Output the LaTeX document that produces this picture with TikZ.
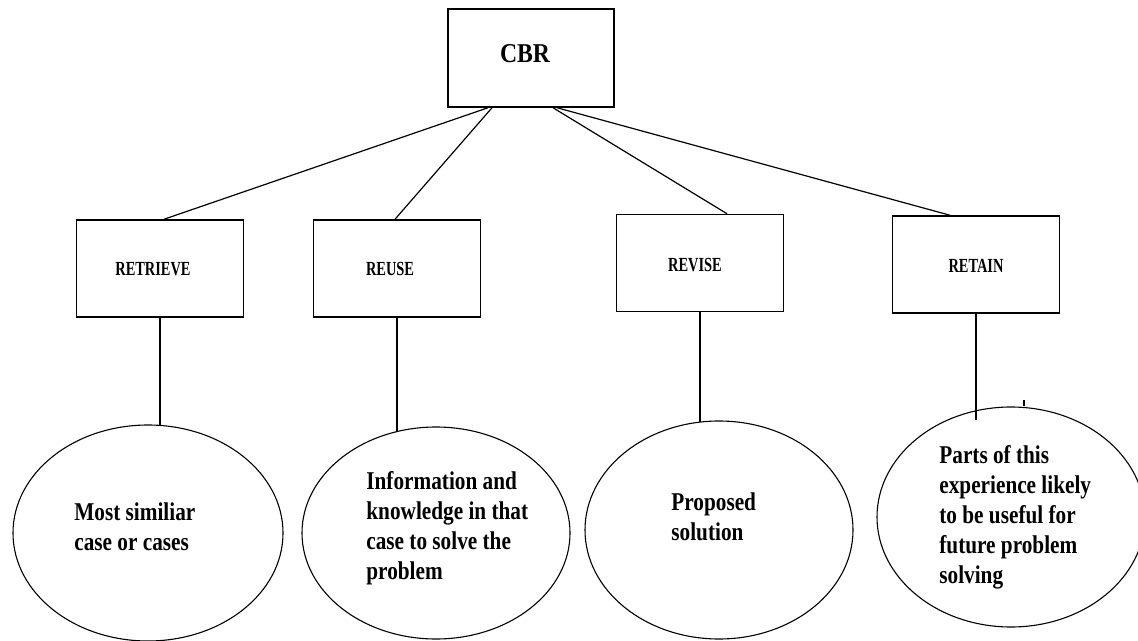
\documentclass[tikz,border=0pt]{standalone}
\usepackage{fontspec}
\setmainfont{Liberation Serif}
\newfontfamily\ellfont{Liberation Serif}[FakeStretch=0.83]
\newfontfamily\boxfont{Liberation Serif}[FakeStretch=0.72]
\newfontfamily\cbrfont{Liberation Serif}[FakeStretch=0.87]
\usetikzlibrary{shapes.geometric,calc}
\begin{document}
\begin{tikzpicture}[x=0.5pt,y=-0.5pt,
  stagebox/.style={draw, line width=0.75pt, rectangle, minimum width=83.5pt, minimum height=48.5pt, inner sep=0pt},
  rootbox/.style={draw, line width=0.75pt, rectangle, minimum width=83pt, minimum height=49pt, inner sep=0pt},
  resultell/.style={draw, line width=0.55pt, ellipse, inner sep=0pt},
  boxlabel/.style={inner sep=0pt, font=\boxfont\bfseries\fontsize{10}{12}\selectfont},
  rootlabel/.style={inner sep=0pt, font=\cbrfont\bfseries\fontsize{13.6}{16}\selectfont},
  elltext/.style={inner sep=0pt, anchor=west, align=left, font=\ellfont\bfseries\fontsize{12.8}{15}\selectfont},
  link/.style={line width=0.6pt}
]
\clip (0,0) rectangle (1138,641);
\fill[white] (0,0) rectangle (1138,641);

% root
\node[rootbox] (cbr) at (531,58) {};
\node[rootlabel] (cbrt) at (525,54) {CBR};

% stage boxes
\node[stagebox] (b1) at (160,268.5) {};
\node[stagebox] (b2) at (397,268.5) {};
\node[stagebox] (b3) at (700,263) {};
\node[stagebox] (b4) at (976,264.5) {};
\node[boxlabel] (l1) at (153,269) {RETRIEVE};
\node[boxlabel] (l2) at (390,269) {REUSE};
\node[boxlabel] (l3) at (695,265) {REVISE};
\node[boxlabel] (l4) at (976,266) {RETAIN};

% result ellipses
\node[resultell, minimum width=135pt, minimum height=108pt] (e1) at (148,533) {};
\node[resultell, minimum width=134pt, minimum height=106pt] (e2) at (436,533) {};
\node[resultell, minimum width=134pt, minimum height=109pt] (e3) at (719,530) {};
\node[resultell, minimum width=134pt, minimum height=110pt] (e4) at (1011,517) {};

\node[elltext] (t1) at (74,527) {Most similiar\\case or cases};
\node[elltext] (t2) at (366,528) {Information and\\knowledge in that\\case to solve the\\problem};
\node[elltext] (t3) at (671,517) {Proposed\\solution};
\node[elltext] (t4) at (939,517) {Parts of this\\experience likely\\to be useful for\\future problem\\solving};

% connectors root -> stages
\coordinate (r1) at ($(cbr.south)+(-43,0)$);
\coordinate (r2) at ($(cbr.south)+(-39,0)$);
\coordinate (r3) at ($(cbr.south)+(22,0)$);
\coordinate (r4) at ($(cbr.south)+(26,0)$);
\draw[link] (r1) -- ($(b1.north)+(4,0)$);
\draw[link] (r2) -- ($(b2.north)+(-2,0)$);
\draw[link] (r3) -- ($(b3.north)+(27,0)$);
\draw[link] (r4) -- ($(b4.north)+(-26,0)$);

% connectors stages -> results
\draw[link] (b1.south) -- (b1.south |- e1.85);
\draw[link] (b2.south) -- (b2.south |- e2.112);
\draw[link] (b3.south) -- (b3.south |- e3.100);
\coordinate (e4in) at ($(b4.south |- e4.north)+(0,14)$);
\draw[link] (b4.south) -- (e4in);
\draw[link] ($(e4.north)+(13,-6)$) -- ($(e4.north)+(13,0)$);
\end{tikzpicture}
\end{document}
